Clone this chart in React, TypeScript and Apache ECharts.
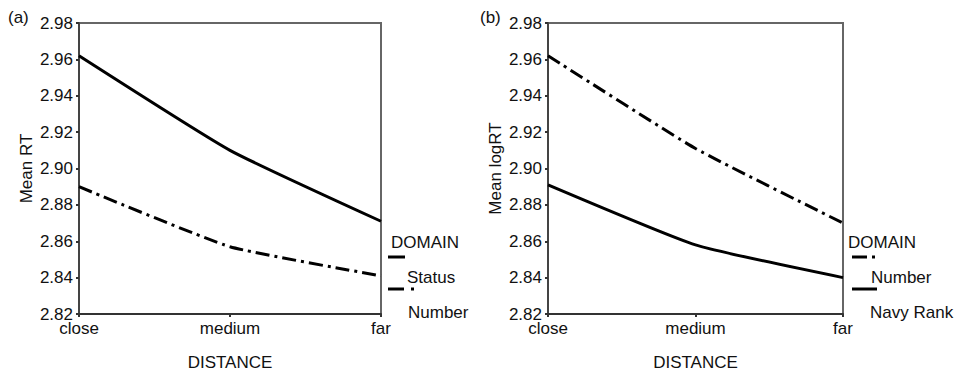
import React, { useEffect, useRef } from "react";
import * as echarts from "echarts";

const categories = ["close", "medium", "far"];
const yTicksMin = 2.82;
const yTicksMax = 2.98;
const yInterval = 0.02;

// Panel (a): Mean RT
const aStatus = [2.962, 2.910, 2.871];
const aNumber = [2.890, 2.857, 2.841];
// Panel (b): Mean logRT
const bNumber = [2.962, 2.911, 2.870];
const bNavyRank = [2.891, 2.858, 2.840];

const FONT = "Liberation Sans, Arial, sans-serif";
const DASHDOT = [14, 5, 3, 5];

function makeXAxis(gridIndex: number) {
  return {
    type: "category",
    gridIndex,
    data: categories,
    boundaryGap: false,
    name: "DISTANCE",
    nameLocation: "middle",
    nameGap: 40,
    nameTextStyle: { fontFamily: FONT, fontSize: 17, color: "#111" },
    axisLine: { show: true, lineStyle: { color: "#333", width: 2 } },
    axisTick: { show: true, length: 3, lineStyle: { color: "#333", width: 2 } },
    axisLabel: { fontFamily: FONT, fontSize: 17, color: "#111", margin: 8, lineHeight: 13 },
    splitLine: { show: false },
  };
}

function makeYAxis(gridIndex: number, name: string) {
  return {
    type: "value",
    gridIndex,
    min: yTicksMin,
    max: yTicksMax,
    interval: yInterval,
    name,
    nameLocation: "middle",
    nameGap: 44,
    nameTextStyle: { fontFamily: FONT, fontSize: 17, color: "#111" },
    axisLine: { show: true, lineStyle: { color: "#444", width: 2 } },
    axisTick: { show: true, length: 3, lineStyle: { color: "#333", width: 2 } },
    axisLabel: {
      fontFamily: FONT,
      fontSize: 17,
      color: "#111",
      margin: 6,
      lineHeight: 13,
      formatter: (v: number) => v.toFixed(2),
    },
    splitLine: { show: false },
  };
}

function line(data: number[], idx: number, dashed: boolean) {
  return {
    type: "line",
    xAxisIndex: idx,
    yAxisIndex: idx,
    data,
    smooth: 0.15,
    symbol: "none",
    lineStyle: {
      color: "#000",
      width: 3,
      type: dashed ? DASHDOT : "solid",
    },
  };
}

function legendItems(
  sx: number,
  solidLen: number,
  dashLen: number,
  dotAt: number,
  labels: string[],
  labelX: number[],
  firstDashed: boolean
) {
  const t = (text: string, lx: number, y: number) => ({
    type: "text",
    x: lx,
    y,
    style: {
      text,
      fontFamily: FONT,
      fontSize: 17,
      fill: "#111",
      verticalAlign: "middle",
    },
  });
  const seg = (x1: number, x2: number, y: number) => ({
    type: "line",
    shape: { x1, y1: y, x2, y2: y },
    style: { stroke: "#000", lineWidth: 3 },
  });
  const sample = (y: number, dashed: boolean) =>
    dashed
      ? [seg(sx, sx + dashLen, y), seg(sx + dotAt, sx + dotAt + 3, y)]
      : [seg(sx, sx + solidLen, y)];
  return [
    t(labels[0], labelX[0], 242),
    ...sample(257, firstDashed),
    t(labels[1], labelX[1], 277),
    ...sample(289, !firstDashed),
    t(labels[2], labelX[2], 312),
  ];
}

export default function App() {
  const ref = useRef<HTMLDivElement>(null);
  useEffect(() => {
    if (!ref.current) return;
    const chart = echarts.init(ref.current, undefined, { renderer: "svg" });
    chart.setOption({
      animation: false,
      backgroundColor: "#fff",
      grid: [
        { left: 79, top: 23, width: 302, height: 291, show: true, borderColor: "#666", borderWidth: 2, backgroundColor: "transparent" },
        { left: 548, top: 23, width: 295, height: 292, show: true, borderColor: "#666", borderWidth: 2, backgroundColor: "transparent" },
      ],
      xAxis: [makeXAxis(0), makeXAxis(1)],
      yAxis: [makeYAxis(0, "Mean RT"), makeYAxis(1, "Mean logRT")],
      series: [
        { name: "Status", ...line(aStatus, 0, false) },
        { name: "Number", ...line(aNumber, 0, true) },
        { name: "Number", ...line(bNumber, 1, true) },
        { name: "Navy Rank", ...line(bNavyRank, 1, false) },
      ],
      graphic: [
        {
          type: "text",
          x: 8,
          y: 17,
          style: { text: "(a)", fontFamily: FONT, fontSize: 17, fill: "#111", verticalAlign: "middle" },
        },
        {
          type: "text",
          x: 480,
          y: 17,
          style: { text: "(b)", fontFamily: FONT, fontSize: 17, fill: "#111", verticalAlign: "middle" },
        },
        ...legendItems(388, 17, 16, 23, ["DOMAIN", "Status", "Number"], [391, 407, 408], false),
        ...legendItems(852, 25, 15, 20, ["DOMAIN", "Number", "Navy Rank"], [848, 871, 870], true),
      ],
    });
    return () => chart.dispose();
  }, []);
  return (
    <div
      ref={ref}
      style={{ position: "absolute", left: 0, top: 0, width: 957, height: 376 }}
    />
  );
}
